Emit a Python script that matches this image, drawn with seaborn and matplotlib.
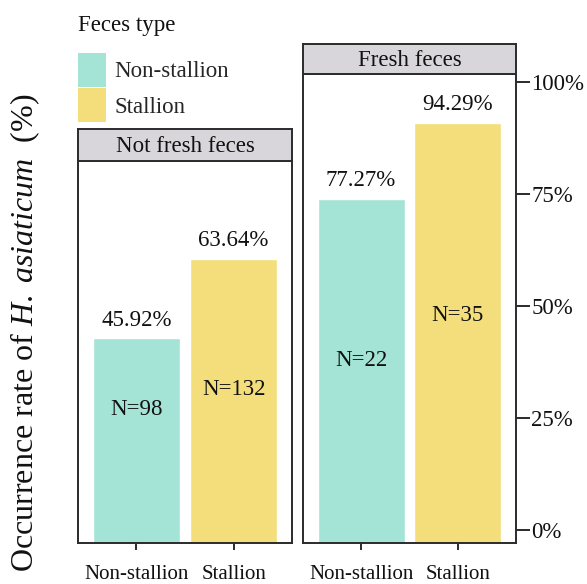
import matplotlib
matplotlib.use("Agg")
import matplotlib.pyplot as plt
import seaborn as sns
import pandas as pd
from matplotlib.patches import Patch

# ---- data ----
panels = ["Not fresh feces", "Fresh feces"]
feces_types = ["Non-stallion", "Stallion"]
rate_not_fresh = [45.92, 63.64]
rate_fresh = [77.27, 94.29]
n_not_fresh = [98, 132]
n_fresh = [22, 35]
tick_values = [0, 25, 50, 75, 100]
tick_labels = ["0%", "25%", "50%", "75%", "100%"]

sns.set_theme(style="white")
plt.rcParams["font.family"] = ["Liberation Serif", "DejaVu Serif"]
plt.rcParams["mathtext.fontset"] = "custom"
plt.rcParams["mathtext.rm"] = "Liberation Serif"
plt.rcParams["mathtext.it"] = "Liberation Serif:italic"

palette = {"Non-stallion": "#A3E4D7", "Stallion": "#F4DE7C"}
frame_col = "#2b2b2b"
txt_col = "#111111"
FS = 16.5
W, H = 587, 584
fig = plt.figure(figsize=(W / 100, H / 100), dpi=100)


def fbox(x0, y0, x1, y1):
    return [x0 / W, 1 - y1 / H, (x1 - x0) / W, (y1 - y0) / H]


def draw_panel(rect, strip_rect, title, rates, ns, ymax, n_y):
    ax = fig.add_axes(fbox(*rect))
    df = pd.DataFrame({"type": feces_types, "rate": rates})
    sns.barplot(data=df, x="type", y="rate", hue="type", palette=palette,
                width=0.9, legend=False, ax=ax, saturation=1)
    ax.set_xlim(-0.6, 1.6)
    ax.set_ylim(0, ymax)
    ax.set_yticks([])
    ax.set_xlabel("")
    ax.set_ylabel("")
    ax.tick_params(axis="x", length=5, width=1.4, color=frame_col, pad=10.5,
                   labelsize=15, labelcolor=txt_col, bottom=True)
    for s in ax.spines.values():
        s.set_color(frame_col)
        s.set_linewidth(1.4)
    for i, (r, n) in enumerate(zip(rates, ns)):
        ax.annotate(f"{r:.2f}%", (i, r), xytext=(0, 13), textcoords="offset points",
                    ha="center", va="center", fontsize=FS, color=txt_col)
        ax.text(i, n_y[i], f"N={n}", ha="center", va="center", fontsize=FS,
                color=txt_col)
    sax = fig.add_axes(fbox(*strip_rect))
    sax.set_facecolor("#D8D6DA")
    sax.set_xticks([])
    sax.set_yticks([])
    for s in sax.spines.values():
        s.set_color(frame_col)
        s.set_linewidth(1.4)
    sax.text(0.5, 0.45, title, ha="center", va="center", fontsize=FS,
             color=txt_col, transform=sax.transAxes)
    return ax


ax1 = draw_panel((78, 161, 292, 543), (78, 129, 292, 161), panels[0],
                 rate_not_fresh, n_not_fresh, 85.6, [30, 34.3])
ax2 = draw_panel((303, 74, 516, 543), (303, 44, 516, 74), panels[1],
                 rate_fresh, n_fresh, 105.2, [41, 51])

# right-hand percentage axis
tax = ax2.twinx()
tax.set_ylim(-2.9, 101.8)
tax.set_yticks(tick_values)
tax.set_yticklabels(tick_labels)
tax.tick_params(axis="y", right=True, length=10, width=1.4, color=frame_col,
                pad=1, labelsize=FS, labelcolor=txt_col)
for s in tax.spines.values():
    s.set_visible(False)

# y label
fig.text(25 / W, 1 - 333 / H, r"Occurrence rate of $\mathit{H.\ asiaticum}$  (%)",
         rotation=90, ha="center", va="center", fontsize=23, color=txt_col)

# legend
fig.text(78 / W, 1 - 25 / H, "Feces type", ha="left", va="center",
         fontsize=FS, color=txt_col)
handles = [Patch(facecolor=palette[t], edgecolor="none") for t in feces_types]
fig.legend(handles, feces_types, loc="upper left",
           bbox_to_anchor=(78 / W, 1 - 53 / H), frameon=False, fontsize=FS,
           handlelength=1.2, handleheight=1.9,
           handletextpad=0.4, labelspacing=0.06,
           borderpad=0, borderaxespad=0)

fig.savefig("out.png", dpi=100)
